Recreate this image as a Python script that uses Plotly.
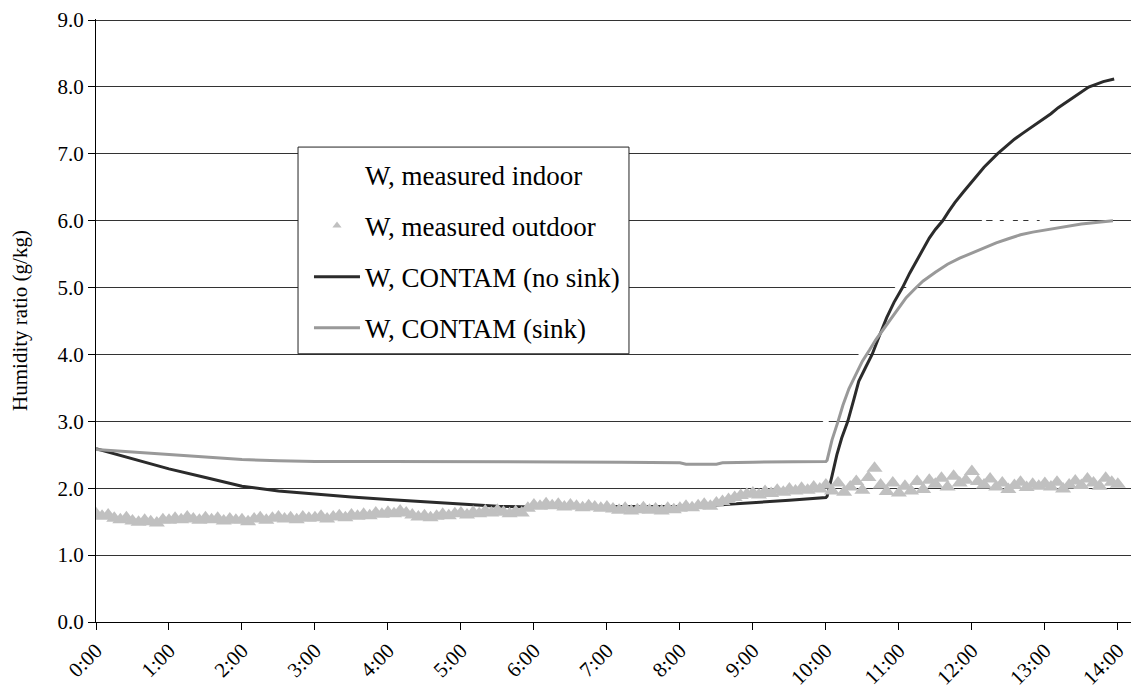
import plotly.graph_objects as go

# ---------------- data ----------------
tick_labels = [f"{h}:00" for h in range(15)]
y_ticks = [0, 1, 2, 3, 4, 5, 6, 7, 8, 9]

# CONTAM (no sink)
nosink_t = ["0:00", "0:30", "1:00", "1:30", "2:00", "2:30", "3:00", "3:30", "4:00", "4:30",
            "5:00", "5:30", "6:00", "6:30", "7:00", "7:30", "8:00", "8:30", "9:00", "9:30",
            "10:00", "10:01", "10:05", "10:09", "10:13", "10:18", "10:23", "10:27", "10:33",
            "10:38", "10:44", "10:50", "10:56", "11:03", "11:09", "11:15", "11:20", "11:25",
            "11:30", "11:36", "11:41", "11:46", "11:53", "12:00", "12:10", "12:21", "12:28",
            "12:35", "12:42", "12:50", "12:57", "13:05", "13:11", "13:18", "13:27", "13:36",
            "13:42", "13:48", "13:57"]
nosink_w = [2.59, 2.44, 2.29, 2.16, 2.03, 1.96, 1.91, 1.87, 1.83, 1.80,
            1.77, 1.73, 1.72, 1.72, 1.72, 1.72, 1.73, 1.75, 1.78, 1.82,
            1.86, 1.88, 2.18, 2.50, 2.75, 3.00, 3.33, 3.60, 3.82,
            4.00, 4.28, 4.55, 4.78, 5.00, 5.22, 5.42, 5.58, 5.74,
            5.87, 6.00, 6.14, 6.27, 6.43, 6.58, 6.80, 7.00, 7.11,
            7.22, 7.31, 7.41, 7.50, 7.60, 7.69, 7.78, 7.89, 8.00,
            8.04, 8.08, 8.12]

# CONTAM (sink)
sink_t = ["0:00", "0:30", "1:00", "1:30", "2:00", "2:30", "3:00", "4:00", "5:00", "6:00",
          "7:00", "7:12", "8:00", "8:05", "8:30", "8:35", "9:00", "10:00", "10:01", "10:05",
          "10:10", "10:14", "10:19", "10:25", "10:30", "10:36", "10:41", "10:47", "10:52",
          "10:59", "11:06", "11:13", "11:20", "11:30", "11:40", "11:50", "12:00", "12:10",
          "12:20", "12:30", "12:40", "12:50", "13:00", "13:10", "13:20", "13:30", "13:40",
          "13:48", "13:56"]
sink_w = [2.58, 2.54, 2.50, 2.46, 2.43, 2.41, 2.40, 2.40, 2.40, 2.40,
          2.40, 2.39, 2.38, 2.36, 2.36, 2.38, 2.39, 2.40, 2.42, 2.72,
          3.00, 3.24, 3.49, 3.72, 3.90, 4.07, 4.22, 4.37, 4.50,
          4.68, 4.85, 4.98, 5.10, 5.23, 5.35, 5.44, 5.52, 5.60,
          5.67, 5.73, 5.79, 5.83, 5.86, 5.90, 5.93, 5.95, 5.97,
          5.99, 6.00]

# measured outdoor, every 5 minutes from 0:00 to 14:00
outdoor_w = [
    1.62, 1.58, 1.60, 1.55, 1.53, 1.56, 1.51, 1.49, 1.52, 1.50, 1.48, 1.53,
    1.52, 1.55, 1.53, 1.57, 1.54, 1.52, 1.56, 1.53, 1.55, 1.51, 1.54, 1.52,
    1.53, 1.50, 1.54, 1.56, 1.52, 1.55, 1.57, 1.54, 1.56, 1.53, 1.57, 1.55,
    1.56, 1.58, 1.54, 1.57, 1.59, 1.56, 1.60, 1.58, 1.61, 1.59, 1.63, 1.61,
    1.64, 1.62, 1.66, 1.63, 1.60, 1.57, 1.59, 1.56, 1.58, 1.61, 1.59, 1.62,
    1.63, 1.60, 1.64, 1.62, 1.66, 1.63, 1.67, 1.64, 1.62, 1.65, 1.63, 1.70,
    1.75, 1.73, 1.77, 1.74, 1.76, 1.72, 1.75, 1.73, 1.71, 1.74, 1.72, 1.70,
    1.72, 1.69, 1.67, 1.70, 1.66, 1.68, 1.71, 1.67, 1.69, 1.66, 1.70, 1.68,
    1.70, 1.73, 1.71, 1.74, 1.76, 1.73, 1.78, 1.80, 1.83, 1.86, 1.89, 1.91,
    1.93, 1.90, 1.95, 1.92, 1.97, 1.94, 1.99, 1.96, 2.00, 1.97, 2.02, 1.99,
    2.05, 1.96, 2.08, 1.94, 2.02, 2.10, 1.97, 2.16, 2.30, 2.05, 1.95, 2.08,
    1.93, 2.03, 1.96, 2.10, 1.98, 2.12, 2.06, 2.15, 2.02, 2.18, 2.08, 2.12,
    2.25, 2.10, 2.05, 2.14, 2.02, 2.08, 1.98, 2.04, 2.09, 2.01, 2.06, 2.03,
    2.07, 2.02, 2.09, 1.99, 2.05, 2.11, 2.04, 2.14, 2.08, 2.03, 2.15, 2.09,
    2.06]

# measured indoor, every 10 minutes from 0:00 to 14:00 (white markers)
indoor_w = [
    2.56, 2.54, 2.52, 2.50, 2.49, 2.48,
    2.47, 2.46, 2.46, 2.45, 2.45, 2.44,
    2.44, 2.45, 2.44, 2.43, 2.44, 2.45,
    2.44, 2.45, 2.46, 2.45, 2.44, 2.45,
    2.46, 2.45, 2.46, 2.47, 2.46, 2.45,
    2.46, 2.47, 2.46, 2.45, 2.46, 2.47,
    2.48, 2.47, 2.46, 2.47, 2.48, 2.47,
    2.46, 2.47, 2.48, 2.47, 2.46, 2.47,
    2.46, 2.45, 2.46, 2.47, 2.48, 2.49,
    2.50, 2.49, 2.50, 2.51, 2.50, 2.49,
    2.98, 3.40, 3.75, 4.00, 4.40, 4.85,
    5.00, 5.02, 5.05, 5.25, 5.45, 5.65,
    5.85, 5.97, 6.00, 6.02, 5.98, 6.01,
    6.03, 6.12, 6.15, 6.18, 6.20, 6.22,
    6.24]


def to_hours(t):
    h, m = t.split(":")
    return int(h) + int(m) / 60.0


outdoor_x = [i * 5 / 60.0 for i in range(len(outdoor_w))]
indoor_x = [i * 10 / 60.0 for i in range(len(indoor_w))]

FONT = "'Times New Roman', 'Liberation Serif', Times, serif"

fig = go.Figure()
fig.add_trace(go.Scatter(x=indoor_x, y=indoor_w, mode="markers", name="W, measured indoor",
                         marker=dict(symbol="triangle-up", size=10, color="white"),
                         legendgroup="a", legendrank=1))
fig.add_trace(go.Scatter(x=[to_hours(t) for t in nosink_t], y=nosink_w, mode="lines",
                         name="W, CONTAM (no sink)", line=dict(color="#2b2b2b", width=3),
                         legendgroup="c", legendrank=3))
fig.add_trace(go.Scatter(x=[to_hours(t) for t in sink_t], y=sink_w, mode="lines",
                         name="W, CONTAM (sink)", line=dict(color="#999999", width=3),
                         legendgroup="d", legendrank=4))
fig.add_trace(go.Scatter(x=outdoor_x, y=outdoor_w, mode="markers", name="W, measured outdoor",
                         marker=dict(symbol="triangle-up", size=14, color="#c0c0c0",
                                     line=dict(width=0)),
                         legendgroup="b", legendrank=2, showlegend=False))
# legend-only entry with the small legend triangle
fig.add_trace(go.Scatter(x=[None], y=[None], mode="markers", name="W, measured outdoor",
                         marker=dict(symbol="triangle-up", size=8, color="#c0c0c0",
                                     line=dict(width=0)),
                         legendgroup="b", legendrank=2))

# legend frame (white box that hides the gridlines)
fig.add_shape(type="rect", xref="paper", yref="paper",
              x0=0.1937, x1=0.511, y0=0.4448, y1=0.7876,
              line=dict(color="#222222", width=1), fillcolor="white", layer="above")

fig.update_layout(
    width=1131, height=684,
    margin=dict(l=88, r=0, t=7, b=70, pad=0),
    paper_bgcolor="white", plot_bgcolor="white",
    font=dict(family=FONT, size=21, color="black"),
    showlegend=True,
    legend=dict(x=0.2042, y=0.782, xanchor="left", yanchor="top",
                borderwidth=0, bgcolor="rgba(0,0,0,0)",
                font=dict(family=FONT, size=27, color="black"),
                tracegroupgap=13, itemwidth=46),
)
fig.update_xaxes(range=[0, 14.29], tickmode="array", tickvals=list(range(15)),
                 ticktext=tick_labels, tickangle=-45, ticks="outside", ticklen=7,
                 tickcolor="black", showline=True, linecolor="black", linewidth=1,
                 showgrid=False, zeroline=False, tickfont=dict(family=FONT, size=21),
                 ticklabeloverflow="allow")
fig.update_yaxes(range=[0, 9.0165], tickmode="array", tickvals=y_ticks, tickformat=".1f",
                 ticks="outside", ticklen=7,
                 tickcolor="black", showline=True, linecolor="black", linewidth=1,
                 showgrid=True, gridcolor="#333333", gridwidth=1, zeroline=False,
                 tickfont=dict(family=FONT, size=21), ticklabeloverflow="allow",
                 title=dict(text="Humidity ratio (g/kg)", font=dict(family=FONT, size=21),
                            standoff=24))

fig.write_html("out.html")
